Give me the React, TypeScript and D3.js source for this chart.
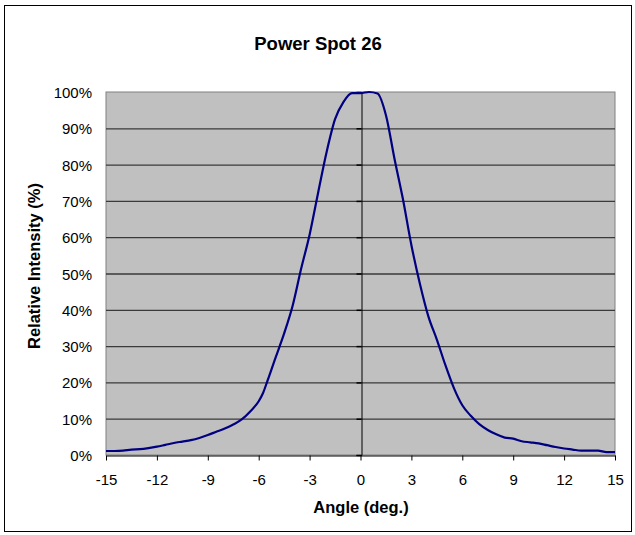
import React, { useEffect, useRef } from 'react';
import * as d3 from 'd3';

const title = 'Power Spot 26';
const xTitle = 'Angle (deg.)';
const yTitle = 'Relative Intensity (%)';

const angles = [
  -15, -14.5, -14, -13.5, -13, -12.5, -12, -11.5, -11, -10.5, -10, -9.5, -9, -8.5, -8, -7.5,
  -7, -6.5, -6, -5.75, -5.5, -5, -4.5, -4, -3.5, -3, -2.5, -2, -1.5, -1, -0.5, 0,
  0.5, 1, 1.5, 2, 2.5, 3, 3.5, 4, 4.5, 5, 5.5, 6, 6.5, 7, 7.5, 8,
  8.5, 9, 9.5, 10, 10.5, 11, 11.5, 12, 12.5, 13, 13.5, 14, 14.5, 15,
];
const intensity = [
  1.1, 1.1, 1.2, 1.5, 1.6, 1.9, 2.3, 2.8, 3.3, 3.7, 4.1, 4.7, 5.5, 6.4, 7.3, 8.4,
  9.8, 12.0, 14.8, 17.0, 20.2, 26.9, 33.5, 41.1, 51.3, 60.7, 72.2, 83.4, 92.5, 97.3, 99.7, 99.7,
  100, 99.6, 93.6, 81.7, 70.5, 57.8, 47.2, 38.2, 31.8, 24.8, 18.5, 13.7, 10.8, 8.5, 6.9, 5.7,
  4.8, 4.5, 3.8, 3.5, 3.2, 2.7, 2.2, 1.8, 1.5, 1.2, 1.2, 1.2, 0.8, 0.8,
];
const xTicks = [-15, -12, -9, -6, -3, 0, 3, 6, 9, 12, 15];
const yTicks = [0, 10, 20, 30, 40, 50, 60, 70, 80, 90, 100];

const W = 635;
const H = 535;

const PowerSpotChart = () => {
  const ref = useRef<SVGSVGElement | null>(null);

  useEffect(() => {
    if (!ref.current) return;
    const svg = d3.select(ref.current);
    svg.selectAll('*').remove();

    const font = 'Arial, "Liberation Sans", sans-serif';
    const plot = { left: 106, right: 615, top: 92, bottom: 455 };

    const x = d3.scaleLinear().domain([-15, 15]).range([plot.left, plot.right]);
    const y = d3.scaleLinear().domain([0, 100]).range([plot.bottom, plot.top]);

    // outer chart border
    svg.append('rect')
      .attr('x', 4.5).attr('y', 5.5)
      .attr('width', 627).attr('height', 526)
      .attr('fill', 'white')
      .attr('stroke', 'black')
      .attr('stroke-width', 1);

    // plot area
    svg.append('rect')
      .attr('x', plot.left).attr('y', plot.top)
      .attr('width', plot.right - plot.left)
      .attr('height', plot.bottom - plot.top)
      .attr('fill', '#C0C0C0')
      .attr('stroke', '#808080')
      .attr('stroke-width', 1);

    // horizontal gridlines
    svg.append('g')
      .selectAll('line')
      .data(yTicks.filter(d => d > 0 && d < 100))
      .enter()
      .append('line')
      .attr('x1', plot.left).attr('x2', plot.right)
      .attr('y1', d => y(d) + 0.5).attr('y2', d => y(d) + 0.5)
      .attr('stroke', '#3a3a3a')
      .attr('stroke-width', 1.3);

    // y tick labels (low position)
    svg.append('g')
      .selectAll('text')
      .data(yTicks)
      .enter()
      .append('text')
      .attr('x', 92)
      .attr('y', d => y(d) + 6)
      .attr('text-anchor', 'end')
      .style('font-family', font)
      .style('font-size', '15px')
      .text(d => `${d}%`);

    // vertical axis crossing at 0
    const yAxisG = svg.append('g')
      .attr('transform', `translate(${Math.round(x(0)) + 0.5},0)`)
      .call(d3.axisLeft(y).tickValues(yTicks).tickSize(5).tickFormat(() => ''));
    yAxisG.select('.domain').attr('stroke', 'black');
    yAxisG.selectAll('.tick line').attr('stroke', 'black').attr('stroke-width', 1.5);

    // bottom axis
    const xAxisG = svg.append('g')
      .attr('transform', `translate(0,${plot.bottom + 0.5})`)
      .call(d3.axisBottom(x).tickValues(xTicks).tickSize(5).tickSizeOuter(0).tickFormat(d => `${d}`));
    xAxisG.select('.domain').attr('stroke', 'black');
    xAxisG.selectAll('.tick line').attr('stroke', 'black');
    xAxisG.selectAll('.tick text')
      .attr('y', 29)
      .attr('dy', 0)
      .style('font-family', font)
      .style('font-size', '15px')
      .style('fill', 'black');

    // curve
    const pts = angles.map((a, i) => [a, intensity[i]] as [number, number]);
    const line = d3.line<[number, number]>()
      .x(d => x(d[0]))
      .y(d => y(d[1]))
      .curve(d3.curveMonotoneX);
    svg.append('path')
      .datum(pts)
      .attr('fill', 'none')
      .attr('stroke', '#000080')
      .attr('stroke-width', 2.2)
      .attr('stroke-linejoin', 'round')
      .attr('d', line);

    // titles
    svg.append('text')
      .attr('x', 318).attr('y', 50)
      .attr('text-anchor', 'middle')
      .style('font-family', font)
      .style('font-size', '18.5px')
      .style('font-weight', 'bold')
      .text(title);

    svg.append('text')
      .attr('x', 361).attr('y', 513)
      .attr('text-anchor', 'middle')
      .style('font-family', font)
      .style('font-size', '16.5px')
      .style('font-weight', 'bold')
      .text(xTitle);

    svg.append('text')
      .attr('transform', 'translate(40,266) rotate(-90)')
      .attr('text-anchor', 'middle')
      .style('font-family', font)
      .style('font-size', '16.5px')
      .style('font-weight', 'bold')
      .text(yTitle);
  }, []);

  return (
    <svg
      ref={ref}
      width={W}
      height={H}
      style={{ position: 'fixed', left: 0, top: 0, background: 'white' }}
    />
  );
};

export default function App() {
  return <PowerSpotChart />;
}
